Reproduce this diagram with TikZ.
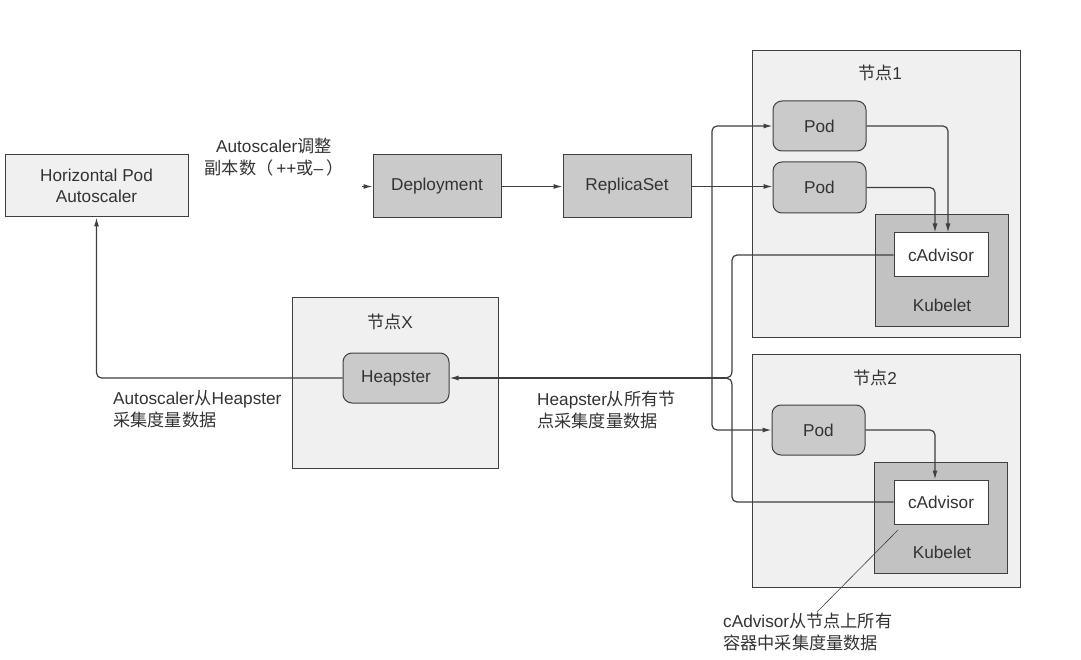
\documentclass[tikz,border=0pt]{standalone}
\usepackage{fontspec}
\setmainfont{Liberation Sans}
\newfontfamily\cjk{Noto Sans CJK SC}
\usetikzlibrary{arrows.meta,calc}
\definecolor{linec}{HTML}{3F3F3F}
\definecolor{txt}{HTML}{333333}
\definecolor{nodebg}{HTML}{F0F0F0}
\definecolor{boxgray}{HTML}{CACACA}
\definecolor{kubegray}{HTML}{C2C2C2}
\begin{document}
\begin{tikzpicture}[x=1pt,y=-1pt,
  font=\fontsize{17.2}{21.5}\selectfont,
  every node/.style={text=txt},
  frame/.style={draw=linec,line width=1pt,fill=nodebg,inner sep=0pt},
  graybox/.style={draw=linec,line width=1pt,fill=boxgray,inner sep=0pt},
  podbox/.style={graybox,rounded corners=9pt},
  kubebox/.style={draw=linec,line width=1pt,fill=kubegray,inner sep=0pt},
  cadbox/.style={draw=linec,line width=1pt,fill=white,inner sep=0pt},
  conn/.style={draw=linec,line width=1.2pt,rounded corners=5pt},
  arr/.style={-{Latex[length=9pt,width=5pt]}},
  lbl/.style={align=left,inner sep=0pt,anchor=west}
]
\useasboundingbox (0,0) rectangle (1081,660);
% big frames
\node[frame,minimum width=268pt,minimum height=286pt] (n1) at (886,194) {};
\node[frame,minimum width=268pt,minimum height=233pt] (n2) at (886,470.5) {};
\node[frame,minimum width=206pt,minimum height=171pt] (nx) at (395,382.5) {};
\node (n1l) at (880,73) {{\cjk 节点}1};
\node (n2l) at (875,378) {{\cjk 节点}2};
\node (nxl) at (390,322) {{\cjk 节点}X};
% HPA
\node[frame,fill=nodebg,minimum width=183pt,minimum height=62pt,align=center] (hpa) at (96.5,186) {Horizontal Pod\\Autoscaler};
\node[graybox,minimum width=128pt,minimum height=63pt] (dep) at (437,186.5) {Deployment};
\node[graybox,minimum width=128pt,minimum height=63pt] (rs) at (627,186.5) {ReplicaSet};
% node 1
\node[podbox,minimum width=93pt,minimum height=50pt] (pod1) at (819.5,126) {Pod};
\node[podbox,minimum width=93pt,minimum height=51pt] (pod2) at (819.5,187.5) {Pod};
\node[kubebox,minimum width=133pt,minimum height=111pt] (kub1) at (941.5,270.5) {};
\node[cadbox,minimum width=94pt,minimum height=44pt] (cad1) at (941,255) {cAdvisor};
\node (kub1l) at (942,305) {Kubelet};
% node 2
\node[podbox,minimum width=93pt,minimum height=50pt] (pod3) at (818.5,430) {Pod};
\node[kubebox,minimum width=133pt,minimum height=111pt] (kub2) at (940.5,517.5) {};
\node[cadbox,minimum width=94pt,minimum height=44pt] (cad2) at (941,502) {cAdvisor};
\node (kub2l) at (942,552) {Kubelet};
% heapster
\node[podbox,minimum width=106pt,minimum height=50pt] (hp) at (396,378) {Heapster};
% labels
\node[align=center,inner sep=0pt] (l1) at (274,157) {Autoscaler{\cjk 调整}\\{\cjk 副本数（}\,++{\cjk 或}–\,{\cjk ）}};
\node[lbl] (l2) at (113,409) {Autoscaler{\cjk 从}Heapster\\{\cjk 采集度量数据}};
\node[lbl] (l3) at (537,410) {Heapster{\cjk 从所有节}\\{\cjk 点采集度量数据}};
\node[lbl] (l4) at (723,632) {cAdvisor{\cjk 从节点上所有}\\{\cjk 容器中采集度量数据}};
% coordinates
\coordinate (depin) at (362,186.5);
\coordinate (bus) at (712,186.5);
\coordinate (tip) at (726,378);
\coordinate (vtop) at (732,371);
\coordinate (vbot) at (732,385);
\coordinate (calla) at (898,530);
\coordinate (callb) at (817,612);
% connectors
\draw[conn,arr] (depin) -- (dep.west);
\draw[conn,arr] (dep.east) -- (rs.west);
\draw[conn,arr] (rs.east) -- (rs.east -| pod2.west);
\draw[conn,arr] (bus) |- (pod1.west);
\draw[conn,arr] (bus) |- (pod3.west);
\draw[conn,arr] (pod1.east) -| ([xshift=7pt]cad1.north);
\draw[conn,arr] (pod2.east) -| ([xshift=-6pt]cad1.north);
\draw[conn,arr] (pod3.east) -| ([xshift=-6pt]cad2.north);
\draw[conn] (cad1.west) -| (vtop);
\draw[draw=linec,line width=1.2pt] (vtop) .. controls (732,376) and (729,378) .. (tip);
\draw[conn] (cad2.west) -| (vbot);
\draw[draw=linec,line width=1.2pt] (vbot) .. controls (732,380) and (729,378) .. (tip);
\draw[conn,arr] (tip) -- (tip -| hp.east);
\draw[conn,arr] (hp.west) -| (hpa.south);
\draw[draw=linec,line width=0.6pt] (calla) -- (callb);
\end{tikzpicture}
\end{document}
